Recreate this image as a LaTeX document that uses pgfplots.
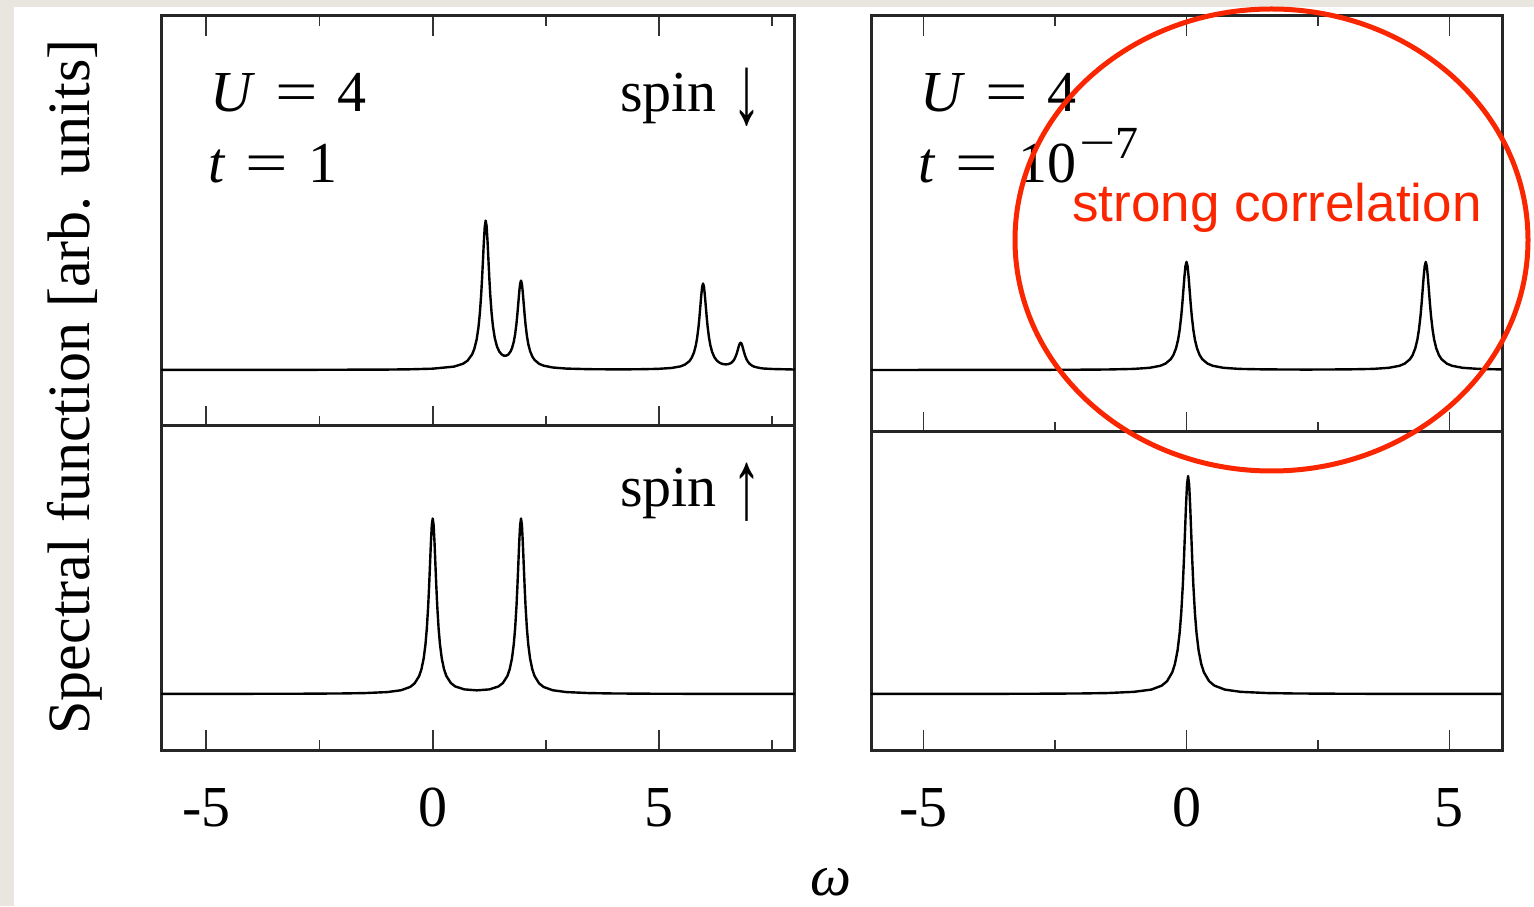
\documentclass[border=0pt]{standalone}
\usepackage{fontspec}
\setmainfont{Liberation Serif}
\newfontfamily\notefont{Liberation Sans}
\usepackage{pgfplots}
\pgfplotsset{compat=1.18}
\definecolor{slidebg}{RGB}{233,230,223}
\definecolor{markred}{RGB}{250,38,0}
\newcommand{\lab}{\fontsize{58}{62}\selectfont}
\newcommand{\eq}{\hspace{20pt}\scalebox{1.3}[1]{=}\hspace{20pt}}
\newcommand{\tallarrow}[1]{\raisebox{-12pt}{\scalebox{1}[1.7]{#1}}}

\pgfplotsset{
  panel/.style={
    scale only axis, anchor=south west,
    xmin=-6, ytick=\empty,
    xtick={-5,0,5}, xticklabels=\empty,
    separate axis lines,
    axis line style={line width=3pt, black!85, line cap=rect},
    tick style={line width=1.8pt, black!80},
    major tick length=20pt, minor tick length=10pt,
    tick align=inside,
  },
  labelled/.style={
    xtick pos=left,
    xticklabels={-5,0,5},
    xticklabel style={font=\lab, inner sep=0pt, yshift=-38pt},
  },
  spec/.style={black, line width=2.4pt, line join=round, mark=none},
}

\begin{document}
\begin{tikzpicture}
\fill[slidebg] (0pt,0pt) rectangle (1534pt,906pt);
\fill[white] (14pt,0pt) rectangle (1534pt,899pt);

% left column, U=4, t=1
\begin{axis}[panel, at={(161pt,480pt)}, width=634pt, height=410pt,
  xmax=8, ymin=-56, ymax=354, minor xtick={-2.5,2.5,7.5}]
\addplot[spec] coordinates {
(-6,0.05) (-3,0.13) (-1,0.43) (-0.5,0.7) (0,1.32) (0.47,3.39) (0.67,6.26) (0.77,9.35)
(0.87,15.6) (0.92,21.3) (0.97,30.5) (1.01,42.6) (1.04,56.2) (1.07,75.2) (1.09,91.5)
(1.11,110.1) (1.13,128.9) (1.15,143.8) (1.17,149.4) (1.19,143.9) (1.21,129.2) (1.23,110.5)
(1.25,92.0) (1.27,75.8) (1.30,57.1) (1.33,43.8) (1.37,32.1) (1.42,23.4) (1.47,18.4)
(1.52,15.7) (1.57,14.3) (1.62,14.3) (1.67,15.5) (1.72,18.6) (1.75,21.7) (1.79,28.2)
(1.82,35.8) (1.85,46.6) (1.87,56.1) (1.89,66.7) (1.91,77.7) (1.93,86.2) (1.95,89.4)
(1.97,86.0) (1.99,77.2) (2.01,66.0) (2.03,55.1) (2.05,45.4) (2.08,34.2) (2.11,26.1)
(2.15,18.9) (2.2,13.4) (2.25,10.0) (2.35,6.2) (2.45,4.3) (2.65,2.5) (2.95,1.42)
(3.45,0.82) (3.95,0.65) (4.5,0.71) (4.97,1.13) (5.27,2.0) (5.47,3.6) (5.57,5.4)
(5.67,8.9) (5.72,12.3) (5.77,17.6) (5.81,24.6) (5.84,32.4) (5.87,43.4) (5.89,52.9)
(5.91,63.7) (5.93,74.6) (5.95,83.2) (5.97,86.5) (5.99,83.2) (6.01,74.6) (6.03,63.8)
(6.05,53.1) (6.07,43.6) (6.10,32.7) (6.13,24.9) (6.17,18.0) (6.22,12.8) (6.27,9.6)
(6.32,7.7) (6.37,6.5) (6.42,5.85) (6.47,5.6) (6.52,5.8) (6.57,6.6) (6.60,7.4)
(6.64,9.3) (6.67,11.5) (6.70,14.7) (6.72,17.5) (6.74,20.6) (6.76,23.9) (6.78,26.4)
(6.80,27.3) (6.82,26.3) (6.84,23.6) (6.86,20.3) (6.88,17.0) (6.90,14.1) (6.93,10.7)
(6.96,8.3) (7.00,6.1) (7.05,4.4) (7.10,3.3) (7.2,2.2) (7.3,1.5) (7.5,1.0) (8,0.47)
};
\end{axis}

\begin{axis}[panel, labelled, at={(161pt,156pt)}, width=634pt, height=324pt,
  xmax=8, ymin=-56, ymax=268, minor xtick={-2.5,2.5,7.5}]
\addplot[spec] coordinates {
(-6,0.1) (-4,0.2) (-3,0.26) (-2,0.55) (-1.5,0.92) (-1,1.93) (-0.7,3.75) (-0.5,7.0)
(-0.4,10.6) (-0.3,17.9) (-0.25,24.6) (-0.2,35.4) (-0.16,49.6) (-0.13,65.5) (-0.1,87.9)
(-0.08,107.2) (-0.06,129.0) (-0.04,151.3) (-0.02,168.9) (0,175.5) (0.02,168.9)
(0.04,151.4) (0.06,129.1) (0.08,107.3) (0.1,88.0) (0.13,65.6) (0.16,49.8) (0.2,35.6)
(0.25,24.8) (0.3,18.1) (0.4,11.0) (0.5,7.5) (0.7,4.6) (0.975,3.64) (1.25,4.6)
(1.45,7.5) (1.55,11.0) (1.65,18.1) (1.7,24.8) (1.75,35.6) (1.79,49.8) (1.82,65.6)
(1.85,88.0) (1.87,107.3) (1.89,129.1) (1.91,151.4) (1.93,168.9) (1.95,175.5)
(1.97,168.9) (1.99,151.3) (2.01,129.0) (2.03,107.2) (2.05,87.9) (2.08,65.5)
(2.11,49.6) (2.15,35.4) (2.2,24.6) (2.25,17.9) (2.35,10.6) (2.45,7.0) (2.65,3.75)
(2.95,1.93) (3.45,0.92) (3.95,0.55) (4.95,0.26) (5.95,0.16) (8,0.1)
};
\end{axis}

% right column, U=4, t=1e-7
\begin{axis}[panel, at={(871pt,474pt)}, width=631pt, height=416pt,
  xmax=6, ymin=-62, ymax=354, minor xtick={-2.5,2.5}]
\addplot[spec] coordinates {
(-6,0.03) (-4,0.07) (-3,0.12) (-2,0.3) (-1.5,0.5) (-1,1.1) (-0.7,2.2) (-0.5,4.2)
(-0.4,6.4) (-0.3,10.8) (-0.25,14.9) (-0.2,21.6) (-0.16,30.3) (-0.13,40.2) (-0.1,54.0)
(-0.08,65.9) (-0.06,79.4) (-0.04,93.1) (-0.02,103.9) (0,108.1) (0.02,103.9) (0.04,93.1)
(0.06,79.4) (0.08,65.9) (0.1,54.0) (0.13,40.2) (0.16,30.3) (0.2,21.6) (0.25,14.9)
(0.3,10.8) (0.4,6.4) (0.5,4.2) (0.7,2.2) (1,1.1) (1.5,0.6) (2.275,0.42) (3.05,0.6)
(3.55,1.1) (3.85,2.2) (4.05,4.2) (4.15,6.4) (4.25,10.8) (4.3,14.9) (4.35,21.6)
(4.39,30.3) (4.42,40.2) (4.45,54.0) (4.47,65.9) (4.49,79.4) (4.51,93.1) (4.53,103.9)
(4.55,108.1) (4.57,103.9) (4.59,93.1) (4.61,79.4) (4.63,65.9) (4.65,54.0) (4.68,40.2)
(4.71,30.3) (4.75,21.6) (4.8,14.9) (4.85,10.8) (4.95,6.4) (5.05,4.2) (5.25,2.2)
(5.55,1.1) (6,0.55)
};
\end{axis}

\begin{axis}[panel, labelled, at={(871pt,156pt)}, width=631pt, height=318pt,
  xmax=6, ymin=-56, ymax=262, minor xtick={-2.5,2.5}]
\addplot[spec] coordinates {
(-6,0.06) (-4,0.14) (-3,0.24) (-2,0.54) (-1.5,0.96) (-1,2.16) (-0.67,4.4) (-0.47,8.4)
(-0.37,12.8) (-0.27,21.8) (-0.22,30.1) (-0.17,43.6) (-0.13,61.3) (-0.1,81.1)
(-0.07,109.0) (-0.05,133.0) (-0.03,160.2) (-0.01,187.9) (0.01,209.7) (0.03,218.0)
(0.05,209.7) (0.07,187.9) (0.09,160.2) (0.11,133.0) (0.13,109.0) (0.16,81.1)
(0.19,61.3) (0.23,43.6) (0.28,30.1) (0.33,21.8) (0.43,12.8) (0.53,8.4) (0.73,4.4)
(1.03,2.16) (1.53,0.96) (2.03,0.54) (3.03,0.24) (4.03,0.14) (6,0.06)
};
\end{axis}

% panel texts
\node[anchor=base west, inner sep=0pt] at (210pt,794pt) {\lab\textit{U}\eq 4};
\node[anchor=base west, inner sep=0pt] at (208pt,723pt) {\lab\textit{t}\eq 1};
\node[anchor=base east, inner sep=0pt] at (762pt,794pt) {\lab spin\hspace{16pt}\tallarrow{↓}};
\node[anchor=base east, inner sep=0pt] at (762pt,399pt) {\lab spin\hspace{16pt}\tallarrow{↑}};
\node[anchor=base west, inner sep=0pt] at (920pt,794pt) {\lab\textit{U}\eq 4};
\node[anchor=base west, inner sep=0pt] at (918pt,723pt) {\lab\textit{t}\eq 10\hspace{3pt}\raisebox{24pt}{\fontsize{46}{48}\selectfont\scalebox{1.4}[1]{−}7}};

\node[rotate=90] at (75pt,519pt) {\fontsize{60}{64}\selectfont Spectral function [arb. units]};
\node at (831pt,24pt) {\lab\textit{ω}};

% annotation
\draw[markred, line width=5pt] (1271.5pt,666pt) ellipse [x radius=256.5pt, y radius=231pt];
\node[anchor=base west, inner sep=0pt, text=markred] at (1072pt,684pt)
  {\notefont\fontsize{53}{56}\selectfont strong correlation};
\end{tikzpicture}
\end{document}
